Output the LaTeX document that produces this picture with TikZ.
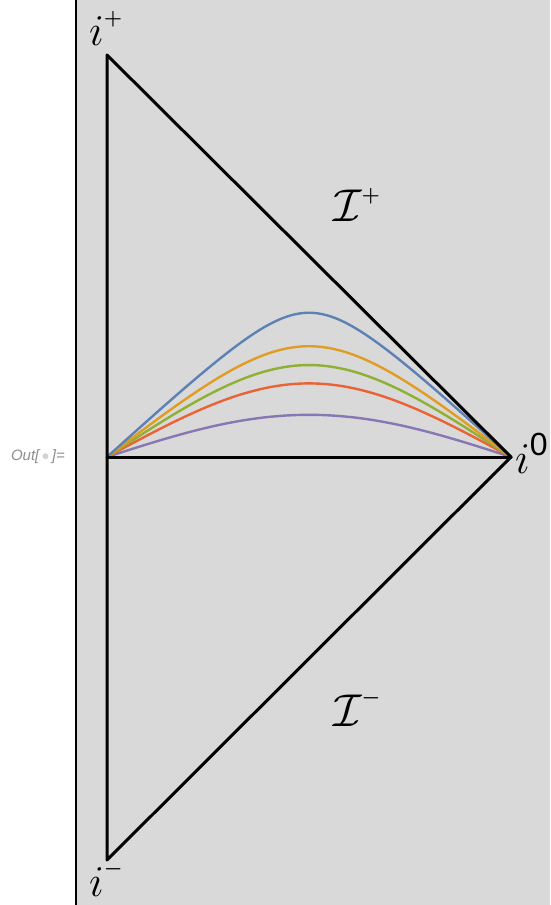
\RequirePackage{fix-cm}
\documentclass[tikz,border=0pt]{standalone}
\usepackage{fontspec}
\newfontfamily\labelfont{Liberation Sans}
\definecolor{bgray}{RGB}{217,217,217}
\definecolor{mblue}{HTML}{5E81B5}
\definecolor{morange}{HTML}{E19C24}
\definecolor{mgreen}{HTML}{8FB032}
\definecolor{mred}{HTML}{EB6235}
\definecolor{mpurple}{HTML}{8778B3}
\definecolor{outgray}{RGB}{140,140,140}
\newcommand\mybig[2][44]{{\fontsize{#1}{#1}\selectfont$#2$}}
\newcommand\mysup[2][22pt]{\raisebox{#1}{\fontsize{21}{21}\selectfont\boldmath$#2$}}
\tikzset{
  edge/.style={line width=3pt, line cap=round, line join=round},
  slice/.style={line width=2.4pt},
  biglabel/.style={inner sep=0pt, anchor=base west},
  declare function={gdd(\u)=2*atan(exp(\u))-90;},
}
\begin{document}
\begin{tikzpicture}[x=1pt,y=-1pt]
\useasboundingbox (0,0) rectangle (550,905);
\fill[bgray] (77,0) rectangle (550,905);
\draw[line width=2pt] (76,0) -- (76,905);
\node[font=\labelfont\itshape\fontsize{15}{15}\selectfont, text=outgray, anchor=east, inner sep=0pt] (out) at (65,457) {Out[\,{\color{gray!35}$\bullet$}\,]=};
\coordinate (ip) at (107,55);
\coordinate (im) at (107,860);
\coordinate (io) at (511,457);
\coordinate (c) at (107,457);
\foreach \e/\col in {0.336/mpurple, 0.61/mred, 0.79/mgreen, 1.0/morange, 1.49/mblue}{
  \draw[slice, \col] (c) -- plot[domain=-7:7, samples=200, smooth]
    ({107+(90+(gdd(\x+\e)+gdd(\x-\e))/2)*2.24444},{457-(gdd(\x+\e)-gdd(\x-\e))*1.11667}) -- (io);
}
\draw[edge] (ip) -- (im) -- (io) -- cycle;
\draw[edge] (c) -- (io);
\node[biglabel] (lip) at (89,45) {\mybig{i}\mysup[21pt]{+}};
\node[biglabel] (lim) at (89,896) {\mybig{i}\mysup[22pt]{-}};
\node[biglabel] (lio) at (515,473) {\mybig{i}\raisebox{18pt}{\labelfont\fontsize{32}{32}\selectfont 0}};
\node[biglabel] (scp) at (333,221) {\mybig[46]{\mathcal{I}}\mysup[20pt]{+}};
\node[biglabel] (scm) at (333,726) {\mybig[46]{\mathcal{I}}\mysup[23pt]{-}};
\end{tikzpicture}
\end{document}
